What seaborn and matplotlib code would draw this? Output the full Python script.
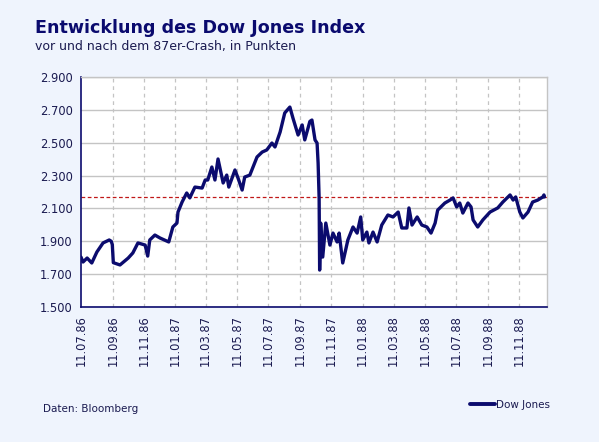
import pandas as pd
import numpy as np
import matplotlib
matplotlib.use("Agg")
import matplotlib.pyplot as plt
import matplotlib.dates as mdates
import seaborn as sns

# Dow Jones closing levels
dates = [
    "1986-07-11", "1986-07-15", "1986-07-23", "1986-08-01", "1986-08-11", "1986-08-23",
    "1986-09-04", "1986-09-08", "1986-09-10", "1986-09-12", "1986-09-25", "1986-10-11",
    "1986-10-20", "1986-10-30", "1986-11-13", "1986-11-18", "1986-11-22", "1986-12-02",
    "1986-12-12", "1986-12-29", "1987-01-06", "1987-01-14", "1987-01-16", "1987-01-24",
    "1987-02-02", "1987-02-08", "1987-02-18", "1987-03-04", "1987-03-10", "1987-03-15",
    "1987-03-23", "1987-03-29", "1987-04-04", "1987-04-14", "1987-04-21", "1987-04-25",
    "1987-05-07", "1987-05-13", "1987-05-21", "1987-05-26", "1987-06-05", "1987-06-19",
    "1987-06-29", "1987-07-08", "1987-07-18", "1987-07-24", "1987-08-03", "1987-08-12",
    "1987-08-22", "1987-08-28", "1987-09-07", "1987-09-15", "1987-09-20", "1987-09-30",
    "1987-10-04", "1987-10-10", "1987-10-14", "1987-10-16", "1987-10-18", "1987-10-19",
    "1987-10-21", "1987-10-25", "1987-10-31", "1987-11-08", "1987-11-14", "1987-11-22",
    "1987-11-26", "1987-12-03", "1987-12-13", "1987-12-23", "1987-12-31", "1988-01-07",
    "1988-01-11", "1988-01-19", "1988-01-23", "1988-01-31", "1988-02-08", "1988-02-17",
    "1988-02-29", "1988-03-10", "1988-03-20", "1988-03-27", "1988-04-06", "1988-04-10",
    "1988-04-16", "1988-04-26", "1988-05-05", "1988-05-15", "1988-05-23", "1988-05-31",
    "1988-06-05", "1988-06-19", "1988-06-29", "1988-07-05", "1988-07-12", "1988-07-18",
    "1988-07-24", "1988-08-03", "1988-08-09", "1988-08-13", "1988-08-22", "1988-09-01",
    "1988-09-15", "1988-09-30", "1988-10-10", "1988-10-24", "1988-10-30", "1988-11-04",
    "1988-11-12", "1988-11-18", "1988-11-28", "1988-12-07", "1988-12-17", "1988-12-27",
    "1988-12-29", "1988-12-30",
]
values = [
    1804, 1774, 1798, 1768, 1835, 1890,
    1908, 1900, 1880, 1770, 1756, 1798,
    1829, 1890, 1877, 1810, 1908, 1938,
    1920, 1896, 1987, 2011, 2078, 2139,
    2194, 2164, 2230, 2224, 2273, 2273,
    2352, 2273, 2401, 2255, 2303, 2230,
    2334, 2285, 2212, 2291, 2303, 2413,
    2443, 2456, 2498, 2474, 2565, 2681,
    2717, 2650, 2547, 2608, 2517, 2630,
    2638, 2517, 2498, 2377, 2164, 1725,
    2011, 1804, 2011, 1877, 1950, 1896,
    1950, 1768, 1908, 1987, 1950, 2048,
    1908, 1956, 1890, 1956, 1896, 1999,
    2060, 2048, 2078, 1981, 1981, 2103,
    1999, 2048, 1999, 1987, 1950, 2011,
    2090, 2133, 2151, 2164, 2109, 2133,
    2072, 2133, 2109, 2030, 1987, 2030,
    2078, 2103, 2139, 2182, 2151, 2170,
    2078, 2042, 2078, 2139, 2151, 2170,
    2182, 2170,
]
ref_level = 2168

tick_labels = ["11.07.86", "11.09.86", "11.11.86", "11.01.87", "11.03.87", "11.05.87",
               "11.07.87", "11.09.87", "11.11.87", "11.01.88", "11.03.88", "11.05.88",
               "11.07.88", "11.09.88", "11.11.88"]
y_ticks = [1500, 1700, 1900, 2100, 2300, 2500, 2700, 2900]

df = pd.DataFrame({"date": pd.to_datetime(dates), "Dow Jones": values})

navy = "#0b0b6e"
bg = "#eff4fd"

sns.set_style("white")
plt.rcParams["font.family"] = ["DejaVu Sans"]

fig = plt.figure(figsize=(5.99, 4.42), dpi=100, facecolor=bg)
ax = fig.add_axes([0.1352, 0.3054, 0.778, 0.5204])
ax.set_facecolor("white")

sns.lineplot(data=df, x="date", y="Dow Jones", ax=ax, color=navy, linewidth=2.4,
             label="Dow Jones", zorder=3)
ax.axhline(ref_level, color="#c01818", linestyle=(0, (3, 2)), linewidth=0.9, zorder=2)

# axes
ax.set_ylim(1500, 2900)
ax.set_xlim(pd.Timestamp("1986-07-11"), pd.Timestamp("1989-01-04"))
ax.set_yticks(y_ticks)
ax.set_yticklabels([f"{v:,}".replace(",", ".") for v in y_ticks])
tick_dates = pd.to_datetime(tick_labels, format="%d.%m.%y")
ax.set_xticks(tick_dates)
ax.set_xticklabels(tick_labels, rotation=90)
ax.set_xlabel("")
ax.set_ylabel("")

ax.grid(axis="y", color="#c4c4c4", linewidth=1, linestyle="-")
for d in tick_dates[1:]:
    ax.axvline(d, color="#c4c4c4", linewidth=0.9, linestyle=(0, (3, 3)), zorder=1)

for side in ["top", "right"]:
    ax.spines[side].set_color("#c4c4c4")
    ax.spines[side].set_linewidth(1)
for side in ["left", "bottom"]:
    ax.spines[side].set_color(navy)
    ax.spines[side].set_linewidth(1.2)

ax.tick_params(axis="both", colors=navy, labelcolor="#1a1a50", labelsize=8.3,
               direction="out", length=4, width=1, pad=2)

# legend
leg = ax.legend(loc="center right", bbox_to_anchor=(0.918, 0.084),
                bbox_transform=fig.transFigure, frameon=False, fontsize=7.5,
                handlelength=2.4, handletextpad=0.1, borderaxespad=0, borderpad=0,
                labelcolor="#1a1a50")
for h in leg.get_lines():
    h.set_linewidth(2.8)

# texts
fig.text(0.058, 0.925, "Entwicklung des Dow Jones Index", fontsize=12.6, fontweight="bold",
         color="#0a0a6e", ha="left", va="baseline")
fig.text(0.058, 0.888, "vor und nach dem 87er-Crash, in Punkten", fontsize=9,
         color="#1a1a50", ha="left", va="baseline")
fig.text(0.072, 0.068, "Daten: Bloomberg", fontsize=7.5, color="#1a1a50",
         ha="left", va="baseline")

fig.savefig("out.png", dpi=100, facecolor=bg)
